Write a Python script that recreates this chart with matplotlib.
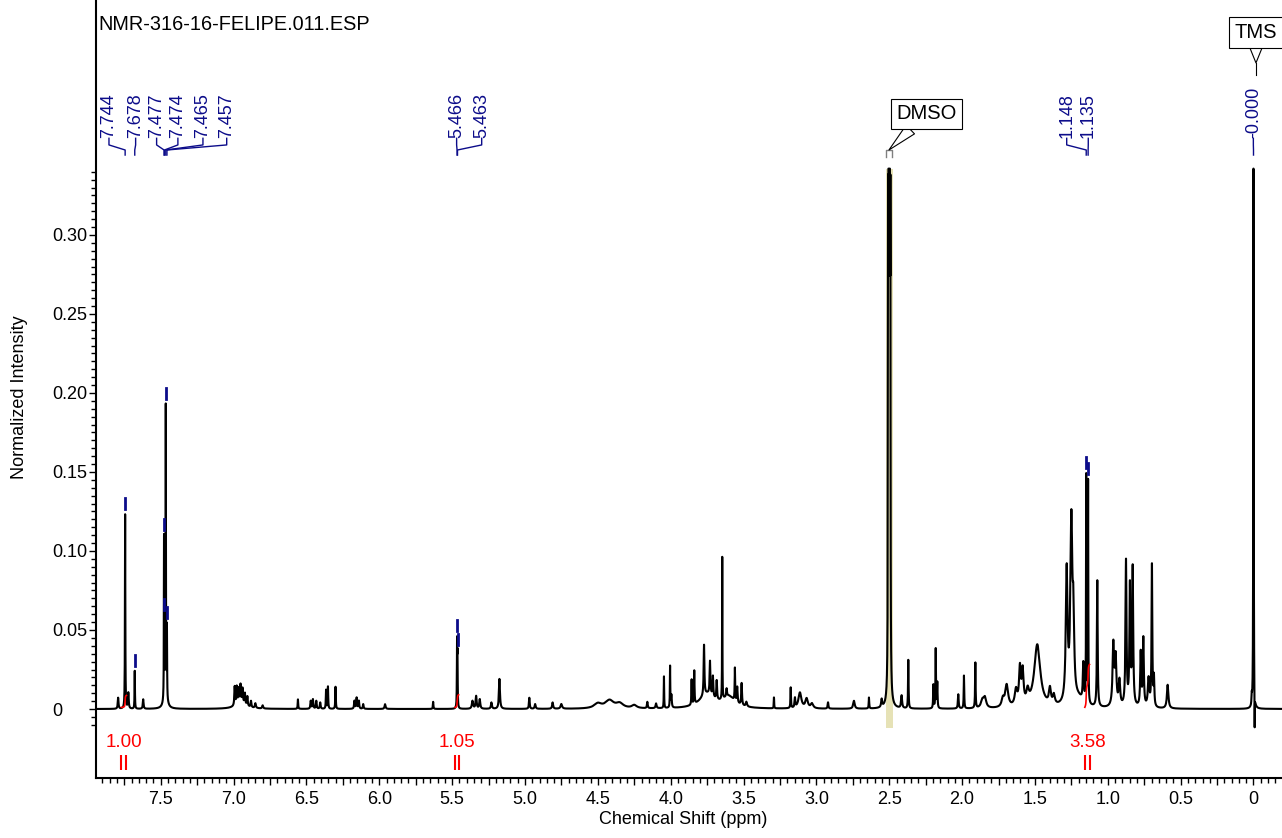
import numpy as np
import matplotlib.pyplot as plt
from matplotlib.ticker import FixedLocator, FuncFormatter

plt.rcParams['font.family'] = ['Liberation Sans', 'DejaVu Sans']

title = 'NMR-316-16-FELIPE.011.ESP'

# peaks: (centre ppm, height, half width ppm)
aromatic = [
    (7.792, 0.007, 0.003), (7.744, 0.123, 0.0015), (7.722, 0.010, 0.003),
    (7.678, 0.024, 0.0015), (7.620, 0.006, 0.003), (7.477, 0.100, 0.0012),
    (7.474, 0.035, 0.0012), (7.465, 0.186, 0.0012), (7.457, 0.045, 0.0012),
    (7.467, 0.010, 0.012),
    (6.992, 0.012, 0.003), (6.978, 0.011, 0.003), (6.965, 0.009, 0.003),
    (6.952, 0.011, 0.003), (6.938, 0.009, 0.003), (6.922, 0.007, 0.003),
    (6.905, 0.006, 0.003), (6.880, 0.004, 0.003), (6.850, 0.003, 0.004),
    (6.800, 0.002, 0.004), (6.950, 0.004, 0.040),
]
olefinic = [
    (6.558, 0.006, 0.002), (6.470, 0.005, 0.003), (6.455, 0.006, 0.003),
    (6.432, 0.005, 0.003), (6.405, 0.004, 0.003), (6.365, 0.012, 0.002),
    (6.352, 0.014, 0.002), (6.300, 0.014, 0.002), (6.170, 0.005, 0.003),
    (6.155, 0.007, 0.003), (6.140, 0.005, 0.003), (6.110, 0.003, 0.003),
    (5.960, 0.003, 0.004), (5.630, 0.0045, 0.002), (5.466, 0.040, 0.0015),
    (5.463, 0.030, 0.0015), (5.360, 0.005, 0.005), (5.335, 0.008, 0.004),
    (5.310, 0.006, 0.004), (5.230, 0.004, 0.004), (5.175, 0.019, 0.004),
    (4.970, 0.007, 0.003), (4.930, 0.003, 0.004), (4.810, 0.004, 0.004),
    (4.750, 0.003, 0.006),
]
sugar = [
    (4.500, 0.003, 0.030), (4.420, 0.005, 0.035), (4.350, 0.003, 0.030),
    (4.250, 0.002, 0.020), (4.160, 0.004, 0.003), (4.100, 0.003, 0.004),
    (4.046, 0.020, 0.0015), (4.004, 0.026, 0.0015), (3.995, 0.008, 0.003),
    (3.856, 0.016, 0.002), (3.838, 0.021, 0.002), (3.750, 0.009, 0.060),
    (3.600, 0.007, 0.050), (3.771, 0.032, 0.003), (3.730, 0.021, 0.003),
    (3.710, 0.013, 0.003), (3.684, 0.012, 0.003), (3.646, 0.090, 0.0012),
    (3.616, 0.005, 0.003), (3.559, 0.021, 0.002), (3.543, 0.010, 0.003),
    (3.513, 0.014, 0.003), (3.480, 0.003, 0.005),
    (3.291, 0.007, 0.0015), (3.176, 0.013, 0.002), (3.147, 0.006, 0.003),
    (3.113, 0.010, 0.012), (3.067, 0.006, 0.010), (3.030, 0.003, 0.010),
    (2.920, 0.004, 0.003), (2.742, 0.005, 0.006), (2.639, 0.007, 0.002),
    (2.552, 0.005, 0.004),
]
dmso = [
    (2.508, 0.25, 0.0012), (2.504, 0.70, 0.0012), (2.500, 1.00, 0.0012),
    (2.496, 0.70, 0.0012), (2.492, 0.25, 0.0012),
]
aliphatic = [
    (2.415, 0.008, 0.004), (2.369, 0.031, 0.002), (2.197, 0.015, 0.002),
    (2.181, 0.038, 0.002), (2.170, 0.016, 0.002), (2.026, 0.009, 0.003),
    (1.987, 0.021, 0.002), (1.909, 0.029, 0.002), (1.860, 0.005, 0.012),
    (1.843, 0.006, 0.010), (1.720, 0.005, 0.010), (1.694, 0.014, 0.012),
    (1.630, 0.010, 0.010), (1.603, 0.023, 0.007), (1.584, 0.021, 0.007),
    (1.550, 0.008, 0.010), (1.484, 0.040, 0.025), (1.397, 0.010, 0.008),
    (1.370, 0.006, 0.008), (1.282, 0.083, 0.007), (1.250, 0.113, 0.008),
    (1.236, 0.045, 0.006), (1.200, 0.005, 0.040), (1.168, 0.024, 0.004),
    (1.148, 0.143, 0.0015), (1.135, 0.143, 0.0015), (1.072, 0.080, 0.003),
    (0.962, 0.039, 0.006), (0.946, 0.030, 0.006), (0.920, 0.016, 0.006),
    (0.875, 0.092, 0.004), (0.848, 0.075, 0.004), (0.829, 0.087, 0.004),
    (0.774, 0.034, 0.004), (0.756, 0.043, 0.004), (0.720, 0.018, 0.006),
    (0.697, 0.090, 0.003), (0.683, 0.018, 0.003), (0.589, 0.015, 0.006),
]
tms = [(0.012, 0.006, 0.002), (0.000, 0.80, 0.0010), (-0.008, -0.024, 0.0010)]

# peak picking labels
pick_text = ['7.744', '7.678', '7.477', '7.474', '7.465', '7.457',
             '5.466', '5.463', '1.148', '1.135', '-0.000']
pick_ppm = [7.744, 7.678, 7.477, 7.474, 7.465, 7.457, 5.466, 5.463, 1.148, 1.135, 0.000]
# where the rotated labels sit (layout only)
pick_label_x = [7.855, 7.672, 7.528, 7.382, 7.210, 7.047, 5.469, 5.297, 1.282, 1.134, 0.001]

# integrals
int_text = ['1.00', '1.05', '3.58']
int_value = [1.00, 1.05, 3.58]
int_start = [7.770, 5.480, 1.158]
int_end = [7.735, 5.455, 1.125]

CLIP = 0.342        # trace is cut at the top of the spectrum area
INT_SCALE = 0.0076  # integral curve height per unit
BLUE = '#0c0c8a'

ppm = np.arange(-0.20, 7.95, 0.0004)
spec = np.zeros_like(ppm)
for c, h, w in aromatic + olefinic + sugar + dmso + aliphatic + tms:
    spec += h * w**2 / ((ppm - c)**2 + w**2)

fig = plt.figure(figsize=(12.82, 8.38), dpi=100)
ax = fig.add_axes([96/1282, 60/838, 1186/1282, 778/838])

# DMSO region shading
ax.fill_between([2.525, 2.477], -0.012, CLIP, color='#e6e2b6', lw=0, zorder=1)
ax.plot(ppm, np.minimum(spec, CLIP), color='black', lw=1.5, zorder=2)

# peak labels with their connectors
for txt, p, lx in zip(pick_text, pick_ppm, pick_label_x):
    ax.text(lx, 0.3615, txt, rotation=90, ha='center', va='bottom',
            color=BLUE, fontsize=13)
    ax.plot([lx, lx, p, p], [0.3612, 0.357, 0.3538, 0.3506], color=BLUE, lw=1)
    top = np.interp(p, ppm, spec)
    if top < CLIP:
        ax.plot([p, p], [top + 0.003, top + 0.010], color=BLUE, lw=2)

# integrals
for txt, val, a, b in zip(int_text, int_value, int_start, int_end):
    m = (ppm <= a) & (ppm >= b)
    xs = ppm[m][::-1]
    cum = np.cumsum(spec[m][::-1])
    ax.plot(xs, 0.001 + cum / cum[-1] * val * INT_SCALE, color='red', lw=1.2, zorder=3)
    ax.vlines([a, b], -0.0386, -0.029, color='red', lw=1.5)
    ax.text((a + b) / 2, -0.0209, txt, color='red', ha='center', va='center', fontsize=13.5)

# solvent / reference callouts
box = dict(boxstyle='square,pad=0.28', fc='white', ec='black', lw=0.8)
arrow = dict(arrowstyle='wedge,tail_width=0.6,shrink_factor=0.5',
             fc='white', ec='black', lw=0.8, shrinkA=0, shrinkB=0)
ax.plot([2.523, 2.523, 2.481, 2.481], [0.3494, 0.3538, 0.3538, 0.3494], color='gray', lw=1)
ax.annotate('DMSO', xy=(2.502, 0.3538), xytext=(2.244, 0.3766), ha='center', va='center',
            fontsize=14.5, bbox=box, arrowprops=arrow)
ax.annotate('TMS', xy=(-0.017, 0.4089), xytext=(-0.017, 0.4282), ha='center', va='center',
            fontsize=14.5, bbox=box, arrowprops=arrow)
ax.plot([-0.017, -0.017], [0.4089, 0.401], color='black', lw=0.8)

ax.set_xlim(7.944, -0.1956)
ax.set_ylim(-0.04367, 0.44873)

def xfmt(v, pos):
    if abs(v) < 1e-6:
        return '0'
    if abs(v * 2 - round(v * 2)) < 1e-6:
        return f'{v:.1f}'
    return ''

ax.xaxis.set_major_locator(FixedLocator(np.arange(0, 7.9, 0.25)))
ax.xaxis.set_minor_locator(FixedLocator(np.arange(-0.15, 7.95, 0.05)))
ax.xaxis.set_major_formatter(FuncFormatter(xfmt))
ax.yaxis.set_major_locator(FixedLocator(np.arange(0, 0.31, 0.05)))
ax.yaxis.set_minor_locator(FixedLocator(np.arange(-0.01, 0.3401, 0.005)))
ax.yaxis.set_major_formatter(FuncFormatter(lambda v, p: '0' if abs(v) < 1e-9 else f'{v:.2f}'))

ax.tick_params(which='major', length=5, width=1, labelsize=13)
ax.tick_params(axis='x', which='major', pad=4)
ax.tick_params(which='minor', length=3.5, width=1)
# y tick labels are left aligned in the original
ax.tick_params(axis='y', which='major', pad=26.7)
for lbl in ax.get_yticklabels():
    lbl.set_ha('left')
ax.spines[['top', 'right']].set_visible(False)
ax.spines[['left', 'bottom']].set_linewidth(1.5)

ax.set_xlabel('Chemical Shift (ppm)', fontsize=13)
ax.set_ylabel('Normalized Intensity', fontsize=13)
ax.xaxis.set_label_coords(0.495, -0.042)
ax.yaxis.set_label_coords(-0.057, 0.489)

fig.text(98/1282, 1 - 25/838, title, ha='left', va='center', fontsize=14.3)

fig.savefig('out.png', dpi=100)
